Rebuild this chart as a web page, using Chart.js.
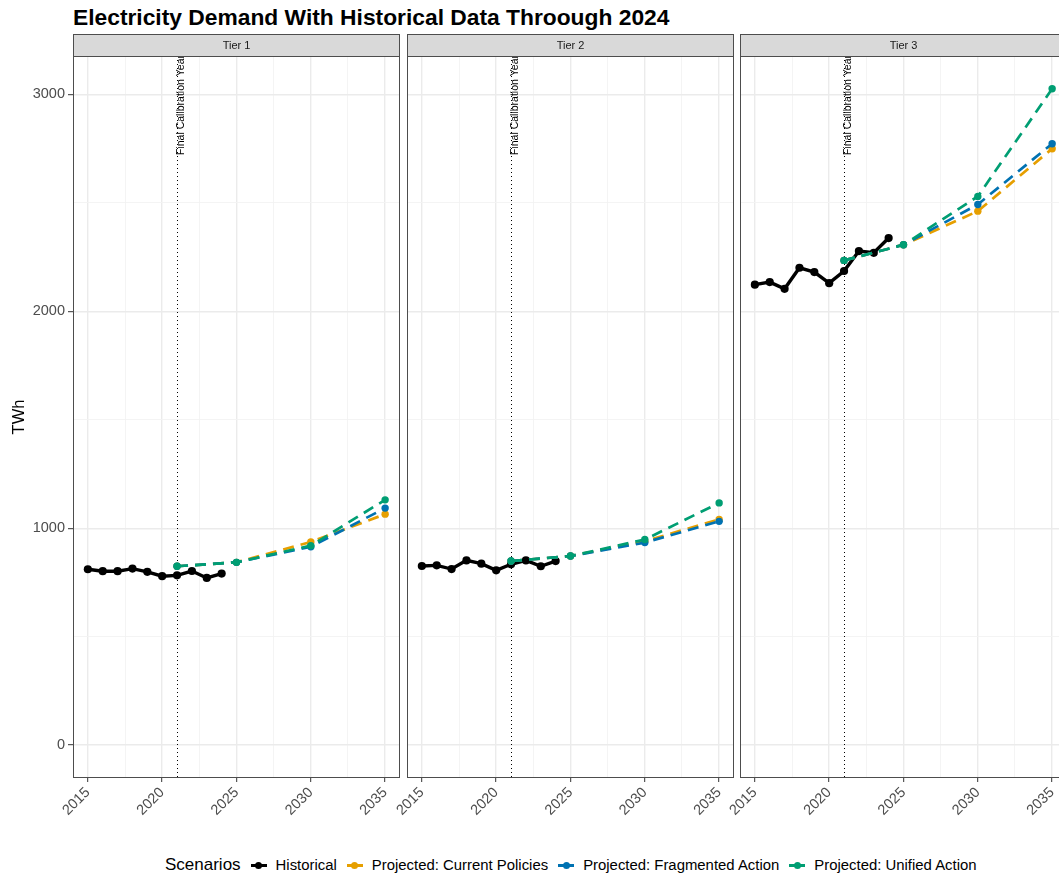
<!DOCTYPE html>
<html>
<head>
<meta charset="utf-8">
<title>Electricity Demand</title>
<script src="https://cdn.jsdelivr.net/npm/chart.js@4.4.1/dist/chart.umd.min.js"></script>
<style>
  html, body { margin: 0; padding: 0; background: #fff; }
  body { width: 1059px; height: 875px; position: relative; overflow: hidden;
         font-family: "Liberation Sans", Arial, Helvetica, sans-serif; }
  #title { position: absolute; left: 73px; top: 6px; font-size: 22.8px; font-weight: bold;
           line-height: 1; color: #000; white-space: nowrap; }
  canvas.panel { position: absolute; }
  #legend { position: absolute; left: 165px; top: 855px; height: 20px; display: flex;
            align-items: center; white-space: nowrap; color: #000; }
  #legend .ltitle { font-size: 17px; margin-right: 8px; }
  #legend .lab { font-size: 14.9px; margin-right: 8px; }
  #legend .key { position: relative; width: 20px; height: 14px; margin-right: 7px; }
  #legend .key::before { content: ""; position: absolute; left: 2px; right: 2px; top: 6px;
                         height: 2.5px; background: var(--c); }
  #legend .key::after { content: ""; position: absolute; left: 6.5px; top: 3.5px; width: 7px;
                        height: 7px; border-radius: 50%; background: var(--c); }
</style>
</head>
<body>
<div id="title">Electricity Demand With Historical Data Throough 2024</div>
<canvas id="tier1" class="panel"></canvas>
<canvas id="tier2" class="panel"></canvas>
<canvas id="tier3" class="panel"></canvas>
<div id="legend"></div>

<script>
// ---- data (TWh) ----
const panelNames = ["Tier 1", "Tier 2", "Tier 3"];
const seriesNames = ["Historical", "Projected: Current Policies", "Projected: Fragmented Action", "Projected: Unified Action"];
const seriesColors = ["#000000", "#E69F00", "#0072B2", "#009E73"];

const historicalYears = [2015, 2016, 2017, 2018, 2019, 2020, 2021, 2022, 2023, 2024];
const projectedYears = [2021, 2025, 2030, 2035];
const calibrationYear = 2021;
const calibrationLabel = "Final Calibration Year";

const tier1Historical = [811, 802, 802, 814, 799, 779, 783, 803, 771, 791];
const tier1Current    = [825, 843, 937, 1065];
const tier1Fragmented = [825, 843, 915, 1093];
const tier1Unified    = [825, 843, 920, 1131];

const tier2Historical = [826, 829, 812, 852, 837, 806, 834, 852, 825, 849];
const tier2Current    = [849, 872, 940, 1041];
const tier2Fragmented = [849, 872, 934, 1032];
const tier2Unified    = [849, 872, 948, 1117];

const tier3Historical = [2123, 2135, 2104, 2201, 2181, 2130, 2186, 2278, 2270, 2338];
const tier3Current    = [2235, 2307, 2462, 2750];
const tier3Fragmented = [2235, 2307, 2493, 2773];
const tier3Unified    = [2235, 2307, 2530, 3026];

const xTicks = [2015, 2017.5, 2020, 2022.5, 2025, 2027.5, 2030, 2032.5, 2035];
const xTickLabels = ["2015", "", "2020", "", "2025", "", "2030", "", "2035"];
const yTicks = [0, 500, 1000, 1500, 2000, 2500, 3000];
const yTickLabels = ["0", "", "1000", "", "2000", "", "3000"];

const panelSeries = [
  [tier1Historical, tier1Current, tier1Fragmented, tier1Unified],
  [tier2Historical, tier2Current, tier2Fragmented, tier2Unified],
  [tier3Historical, tier3Current, tier3Fragmented, tier3Unified]
];

// ---- shared scale limits: shared y with 5% expansion, y range includes 0 ----
const allValues = panelSeries.flat(2);
const yLo = Math.min(0, ...allValues), yHi = Math.max(...allValues);
const yPad = (yHi - yLo) * 0.05;
const xLo = Math.min(...xTicks), xHi = Math.max(...xTicks);
const xPad = (xHi - xLo) * 0.05;

// ---- layout ----
const plotLefts = [73, 407, 740];
const plotWidth = 327;
const plotTop = 56;
const plotHeight = 722;
const axisW = 73;      // room left of each plot area
const padTop = 26;     // room for the strip
const padRight = 8;
const xAxisH = 60;

const FONT = '"Liberation Sans", Arial, Helvetica, sans-serif';
Chart.defaults.font.family = FONT;

function points(years, vals) { return years.map((yr, i) => ({ x: yr, y: vals[i] })); }

const panelDecor = {
  id: "panelDecor",
  beforeDatasetsDraw(chart, args, opts) {
    const { ctx, chartArea: a, scales: { x } } = chart;
    const cx = Math.round(x.getPixelForValue(calibrationYear)) + 0.5;
    ctx.save();
    ctx.beginPath();
    ctx.rect(a.left, a.top, a.right - a.left, a.bottom - a.top);
    ctx.clip();
    ctx.strokeStyle = "#000";
    ctx.lineWidth = 1;
    ctx.setLineDash([1, 3]);
    ctx.beginPath();
    ctx.moveTo(cx, a.top);
    ctx.lineTo(cx, a.bottom);
    ctx.stroke();
    ctx.setLineDash([]);
    // rotated annotation, reading upward, ending at the top of the panel
    ctx.translate(cx + 4, a.top - 1);
    ctx.rotate(-Math.PI / 2);
    ctx.fillStyle = "#000";
    ctx.font = "10.5px " + FONT;
    ctx.textAlign = "right";
    ctx.textBaseline = "middle";
    ctx.fillText(calibrationLabel, 0, 0);
    ctx.restore();
  },
  afterDraw(chart, args, opts) {
    const { ctx, chartArea: a } = chart;
    const L = Math.round(a.left) + 0.5, R = Math.round(a.right) - 0.5;
    const T = Math.round(a.top) + 0.5, B = Math.round(a.bottom) - 0.5;
    ctx.save();
    // panel border
    ctx.strokeStyle = "#4d4d4d";
    ctx.lineWidth = 1;
    ctx.strokeRect(L, T, R - L, B - T);
    // strip
    const sh = 22;
    ctx.fillStyle = "#d9d9d9";
    ctx.fillRect(L, T - sh, R - L, sh);
    ctx.strokeRect(L, T - sh, R - L, sh);
    ctx.fillStyle = "#1a1a1a";
    ctx.font = "11px " + FONT;
    ctx.textAlign = "center";
    ctx.textBaseline = "middle";
    ctx.fillText(opts.label, (L + R) / 2, T - sh / 2 + 0.5);
    ctx.restore();
  }
};

function makePanel(idx) {
  const canvas = document.getElementById("tier" + (idx + 1));
  const W = axisW + plotWidth + padRight;
  const H = padTop + plotHeight + xAxisH;
  canvas.width = W; canvas.height = H;
  canvas.style.width = W + "px"; canvas.style.height = H + "px";
  canvas.style.left = (plotLefts[idx] - axisW) + "px";
  canvas.style.top = (plotTop - padTop) + "px";

  const vals = panelSeries[idx];
  const showY = idx === 0;
  // draw order: Unified on top, Historical underneath the projections
  const orderOf = [3, 2, 1, 0];
  const datasets = seriesNames.map((name, s) => {
    const hist = s === 0;
    return {
      label: name,
      data: points(hist ? historicalYears : projectedYears, vals[s]),
      borderColor: seriesColors[s],
      backgroundColor: seriesColors[s],
      pointBackgroundColor: seriesColors[s],
      borderWidth: hist ? 3.4 : 2.7,
      borderDash: hist ? [] : [11, 7],
      pointRadius: hist ? 4.1 : 3.7,
      pointBorderWidth: 0,
      pointHoverRadius: 3.7,
      tension: 0,
      order: orderOf[s]
    };
  });

  const isMajorX = v => xTickLabels[xTicks.indexOf(v)] !== "";
  const isMajorY = v => yTickLabels[yTicks.indexOf(v)] !== "";

  return new Chart(canvas, {
    type: "line",
    data: { datasets },
    plugins: [panelDecor],
    options: {
      responsive: false,
      animation: false,
      devicePixelRatio: 1,
      layout: { padding: { top: padTop, right: padRight, left: 0, bottom: 0 } },
      plugins: {
        legend: { display: false },
        tooltip: { enabled: false },
        panelDecor: { label: panelNames[idx] }
      },
      scales: {
        x: {
          type: "linear",
          min: xLo - xPad,
          max: xHi + xPad,
          afterBuildTicks: s => { s.ticks = xTicks.map(v => ({ value: v })); },
          afterFit: s => { s.height = xAxisH; },
          border: { display: false },
          grid: {
            color: c => isMajorX(c.tick.value) ? "#ebebeb" : "#f3f3f3",
            lineWidth: c => isMajorX(c.tick.value) ? 1.4 : 0.9,
            tickColor: c => isMajorX(c.tick.value) ? "#333333" : "rgba(0,0,0,0)",
            tickWidth: 1,
            tickLength: 4,
            drawTicks: true
          },
          ticks: {
            autoSkip: false,
            minRotation: 45,
            maxRotation: 45,
            padding: 2,
            color: "#4d4d4d",
            font: { size: 14.5 },
            callback: v => xTickLabels[xTicks.indexOf(v)]
          }
        },
        y: {
          type: "linear",
          min: yLo - yPad,
          max: yHi + yPad,
          afterBuildTicks: s => { s.ticks = yTicks.map(v => ({ value: v })); },
          afterFit: s => { s.width = axisW; },
          border: { display: false },
          title: {
            display: showY,
            text: "TWh",
            color: "#000",
            font: { size: 16.5 },
            padding: { top: 10, bottom: 0 }
          },
          grid: {
            color: c => isMajorY(c.tick.value) ? "#ebebeb" : "#f3f3f3",
            lineWidth: c => isMajorY(c.tick.value) ? 1.4 : 0.9,
            tickColor: c => (showY && isMajorY(c.tick.value)) ? "#333333" : "rgba(0,0,0,0)",
            tickWidth: 1,
            tickLength: 5,
            drawTicks: true
          },
          ticks: {
            display: showY,
            padding: 3,
            color: "#4d4d4d",
            font: { size: 14.5 },
            callback: v => yTickLabels[yTicks.indexOf(v)]
          }
        }
      }
    }
  });
}

panelNames.forEach((_, i) => makePanel(i));

// legend
const legend = document.getElementById("legend");
const lt = document.createElement("span");
lt.className = "ltitle"; lt.textContent = "Scenarios";
legend.appendChild(lt);
seriesNames.forEach((name, s) => {
  const k = document.createElement("span");
  k.className = "key"; k.style.setProperty("--c", seriesColors[s]);
  const t = document.createElement("span");
  t.className = "lab"; t.textContent = name;
  legend.appendChild(k); legend.appendChild(t);
});
</script>
</body>
</html>
